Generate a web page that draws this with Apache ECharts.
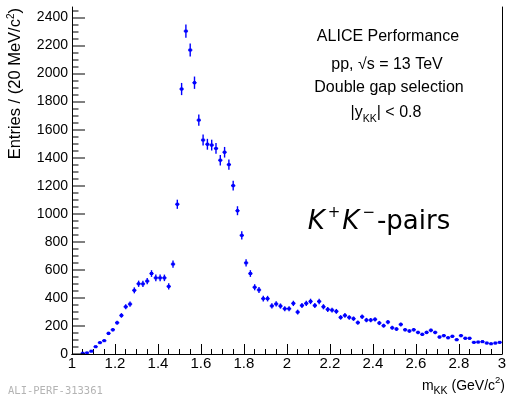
<!DOCTYPE html>
<html><head><meta charset="utf-8">
<script src="https://cdn.jsdelivr.net/npm/echarts@6/dist/echarts.min.js"></script>
<style>html,body{margin:0;padding:0;background:#fff}#c{width:509px;height:394px}</style>
</head><body><div id="c"></div>
<script>
// bin centres of m_KK (GeV/c^2), 20 MeV bins
const massBins = [
 1.01,1.03,1.05,1.07,1.09,1.11,1.13,1.15,1.17,1.19,
 1.21,1.23,1.25,1.27,1.29,1.31,1.33,1.35,1.37,1.39,
 1.41,1.43,1.45,1.47,1.49,1.51,1.53,1.55,1.57,1.59,
 1.61,1.63,1.65,1.67,1.69,1.71,1.73,1.75,1.77,1.79,
 1.81,1.83,1.85,1.87,1.89,1.91,1.93,1.95,1.97,1.99,
 2.01,2.03,2.05,2.07,2.09,2.11,2.13,2.15,2.17,2.19,
 2.21,2.23,2.25,2.27,2.29,2.31,2.33,2.35,2.37,2.39,
 2.41,2.43,2.45,2.47,2.49,2.51,2.53,2.55,2.57,2.59,
 2.61,2.63,2.65,2.67,2.69,2.71,2.73,2.75,2.77,2.79,
 2.81,2.83,2.85,2.87,2.89,2.91,2.93,2.95,2.97,2.99
];
const entries = [
 null,null,5,8,20,52,81,95,147,173,
 223,275,337,356,454,501,500,520,574,543,
 543,543,482,641,1068,1890,2303,2168,1935,1668,
 1526,1496,1490,1466,1382,1439,1351,1201,1022,846,
 650,574,476,457,395,395,343,357,342,323,
 323,361,299,346,361,375,346,375,337,318,
 313,304,261,275,261,252,224,266,242,242,
 247,221,202,228,187,178,211,173,164,173,
 154,140,154,169,154,121,131,116,126,102,
 131,112,112,83,85,88,78,73,78,83
];
const errors = [
 null,null,2.2,2.8,4.5,7.2,9.0,9.7,12.1,13.2,
 14.9,16.6,18.4,18.9,21.3,22.4,22.4,22.8,24.0,23.3,
 23.3,23.3,22.0,25.3,32.7,43.5,48.0,46.6,44.0,40.8,
 39.1,38.7,38.6,38.3,37.2,37.9,36.8,34.7,32.0,29.1,
 25.5,24.0,21.8,21.4,19.9,19.9,18.5,18.9,18.5,18.0,
 18.0,19.0,17.3,18.6,19.0,19.4,18.6,19.4,18.4,17.8,
 17.7,17.4,16.2,16.6,16.2,15.9,15.0,16.3,15.6,15.6,
 15.7,14.9,14.2,15.1,13.7,13.3,14.5,13.2,12.8,13.2,
 12.4,11.8,12.4,13.0,12.4,11.0,11.4,10.8,11.2,10.1,
 11.4,10.6,10.6,9.1,9.2,9.4,8.8,8.5,8.8,9.1
];
const binHalfWidth = 0.01;
const xMin = 1, xMax = 3;
const yMax = 2475;
const yMajorTicks = [0,200,400,600,800,1000,1200,1400,1600,1800,2000,2200,2400];
const yMinorTicks = [50,100,150,250,300,350,450,500,550,650,700,750,850,900,950,
  1050,1100,1150,1250,1300,1350,1450,1500,1550,1650,1700,1750,1850,1900,1950,
  2050,2100,2150,2250,2300,2350,2450];

const data = massBins.map((m, i) => [m, entries[i], errors[i]]);
// tick items placed at the left edge of the x range: [x, y, isMajor]
const tickData = yMajorTicks.map(v => [xMin, v, 1]).concat(yMinorTicks.map(v => [xMin, v, 0]));
const FONT = 'Liberation Sans, Arial, sans-serif';
const BLUE = '#0000ff';
const frameAxisLine = {show: true, lineStyle: {color: '#000', width: 1}};

const chart = echarts.init(document.getElementById('c'), null, {renderer: 'canvas'});
chart.setOption({
  animation: false,
  backgroundColor: '#fff',
  grid: {left: 72, top: 7, width: 432, height: 347, show: false},
  xAxis: [{
    type: 'value', min: xMin, max: xMax, interval: 0.2, position: 'bottom',
    axisLine: frameAxisLine,
    axisTick: {show: true, inside: true, length: 10, lineStyle: {color: '#000'}},
    minorTick: {show: true, splitNumber: 4, length: 5, lineStyle: {color: '#000'}},
    splitLine: {show: false},
    axisLabel: {color: '#000', fontSize: 15, fontFamily: FONT, margin: 2}
  }, {
    type: 'value', min: xMin, max: xMax, position: 'top',
    axisLine: frameAxisLine, axisTick: {show: false}, axisLabel: {show: false}, splitLine: {show: false}
  }],
  yAxis: [{
    type: 'value', min: 0, max: yMax, interval: 200, position: 'left',
    axisLine: frameAxisLine,
    axisTick: {show: false},
    splitLine: {show: false},
    axisLabel: {color: '#000', fontSize: 14, fontFamily: FONT, margin: 4,
      showMaxLabel: false,
      formatter: v => (v % 200 === 0 ? String(v) : '')}
  }, {
    type: 'value', min: 0, max: yMax, position: 'right',
    axisLine: frameAxisLine, axisTick: {show: false}, axisLabel: {show: false}, splitLine: {show: false}
  }],
  series: [{
    type: 'custom',
    xAxisIndex: 0, yAxisIndex: 0,
    clip: true,
    data: data,
    renderItem: function (params, api) {
      const x = api.value(0), y = api.value(1), e = api.value(2);
      if (y == null || isNaN(y)) return null;
      const c = api.coord([x, y]);
      const t = api.coord([x, y + e]);
      const b = api.coord([x, Math.max(0, y - e)]);
      const l = api.coord([x - binHalfWidth, y]);
      const r = api.coord([x + binHalfWidth, y]);
      const st = {stroke: BLUE, lineWidth: 1.4, fill: null};
      return {type: 'group', children: [
        {type: 'line', shape: {x1: c[0], y1: t[1], x2: c[0], y2: b[1]}, style: st},
        {type: 'line', shape: {x1: l[0], y1: c[1], x2: r[0], y2: c[1]}, style: st},
        {type: 'rect', shape: {x: c[0] - 1.5, y: c[1] - 1.5, width: 3, height: 3}, style: {fill: BLUE}}
      ]};
    }
  }, {
    // y-axis tick marks (inside, major every 200 / minor every 50), drawn as thin filled rects
    type: 'custom', xAxisIndex: 0, yAxisIndex: 0, clip: false,
    data: tickData,
    renderItem: function (params, api) {
      const p = api.coord([api.value(0), api.value(1)]);
      const len = api.value(2) === 1 ? 13 : 6.5;
      const y = Math.round(p[1]) - 0.5;
      return {type: 'group', children: [
        {type: 'rect', shape: {x: p[0], y: y, width: len, height: 1}, style: {fill: '#000'}}
      ]};
    }
  }],
  graphic: [
    {type: 'text', x: 15, y: 8, rotation: Math.PI / 2,
     style: {text: 'Entries / (20 MeV/c{sup|2})', fill: '#000', font: '16.5px ' + FONT,
       align: 'right', verticalAlign: 'middle',
       rich: {sup: {fontSize: 10, fontFamily: FONT, fill: '#000', lineHeight: 8, verticalAlign: 'top'}}}},
    {type: 'text', x: 505, y: 386,
     style: {text: 'm{sub|KK} (GeV/c{sup|2})', fill: '#000', font: '14px ' + FONT,
       align: 'right', verticalAlign: 'middle', lineHeight: 22,
       rich: {sub: {fontSize: 10.5, fontFamily: FONT, fill: '#000', lineHeight: 12, verticalAlign: 'bottom'},
              sup: {fontSize: 9.5, fontFamily: FONT, fill: '#000', lineHeight: 10, verticalAlign: 'top'}}}},
    {type: 'text', x: 388, y: 37, style: {text: 'ALICE Performance', fill: '#000', font: '16px ' + FONT, align: 'center', verticalAlign: 'middle'}},
    {type: 'text', x: 387, y: 65, style: {text: 'pp, \u221As = 13 TeV', fill: '#000', font: '16px ' + FONT, align: 'center', verticalAlign: 'middle'}},
    {type: 'text', x: 389, y: 88, style: {text: 'Double gap selection', fill: '#000', font: '16px ' + FONT, align: 'center', verticalAlign: 'middle'}},
    {type: 'text', x: 386, y: 113,
     style: {text: '|y{sub|KK}| < 0.8', fill: '#000', font: '16px ' + FONT, align: 'center', verticalAlign: 'middle', lineHeight: 24,
       rich: {sub: {fontSize: 10.5, fontFamily: FONT, fill: '#000', lineHeight: 12, verticalAlign: 'bottom'}}}},
    {type: 'text', x: 379, y: 222,
     style: {text: '{k|K}{s|+}{k|K}{s|\u2212}{n|-pairs}', fill: '#000', align: 'center', verticalAlign: 'middle',
       rich: {
         k: {fontSize: 26, fontFamily: 'DejaVu Sans', fontStyle: 'italic', fill: '#000', lineHeight: 32, verticalAlign: 'middle'},
         s: {fontSize: 15, fontFamily: 'DejaVu Sans', fill: '#000', lineHeight: 18, verticalAlign: 'top', padding: [0, 2, 0, 3]},
         n: {fontSize: 26, fontFamily: 'DejaVu Sans', fill: '#000', lineHeight: 32, verticalAlign: 'middle'}
       }}},
    {type: 'text', x: 8, y: 386, style: {text: 'ALI-PERF-313361', fill: '#b4b4b4', font: '10.5px DejaVu Sans Mono, monospace', align: 'left', verticalAlign: 'top'}}
  ]
});
</script>
</body></html>
